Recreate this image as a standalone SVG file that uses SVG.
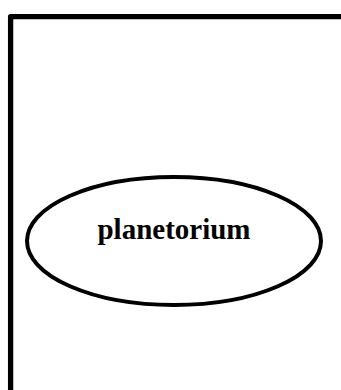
<svg xmlns="http://www.w3.org/2000/svg" width="341" height="390" viewBox="0 0 341 390">
<style>
.edge{fill:none;stroke:#000;stroke-width:5.3;stroke-linejoin:round}
.node ellipse{fill:#fff;stroke:#000;stroke-width:4}
.node text{font-family:"Liberation Serif",serif;font-weight:bold;font-size:29px;fill:#000;text-anchor:middle}
</style>
<rect width="341" height="390" fill="#fff"/>
<g id="connectors">
<path class="edge" d="M10.6,390 V16.6 H341"/>
</g>
<g id="planetorium" class="node">
<ellipse cx="174" cy="241" rx="147" ry="64"/>
<text x="174" y="239">planetorium</text>
</g>
</svg>
